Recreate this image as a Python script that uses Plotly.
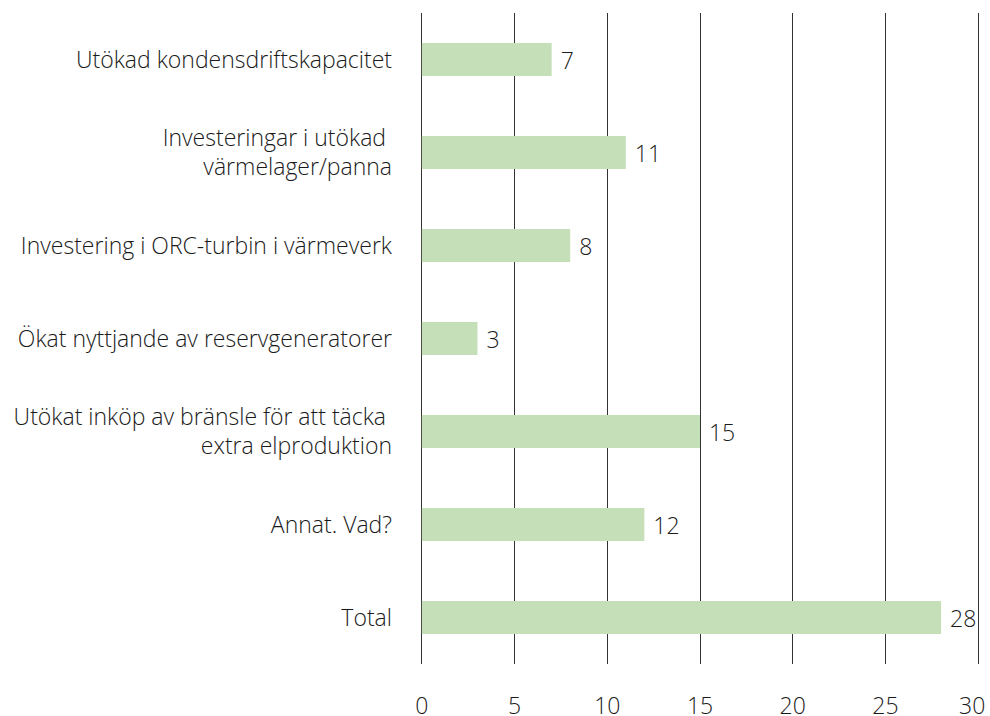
import plotly.graph_objects as go

categories = [
    "Utökad kondensdriftskapacitet",
    "Investeringar i utökad <br>värmelager/panna",
    "Investering i ORC-turbin i värmeverk",
    "Ökat nyttjande av reservgeneratorer",
    "Utökat inköp av bränsle för att täcka <br>extra elproduktion",
    "Annat. Vad?",
    "Total",
]
values = [7, 11, 8, 3, 15, 12, 28]
x_ticks = [0, 5, 10, 15, 20, 25, 30]
x_tick_labels = ["0", "5", "10", "15", "20", "25", "30"]

font_family = "Open Sans, Liberation Sans, Arial, sans-serif"
text_color = "#1a1a1a"
fs = 23

# keep the last tick label inside the page, as in the reference
tick_text = x_tick_labels[:-1] + [x_tick_labels[-1] + "\u00a0\u00a0"]

fig = go.Figure(
    go.Bar(
        x=values,
        y=categories,
        orientation="h",
        marker=dict(color="#c5e0b9", line=dict(width=0)),
        text=[" " + str(v) for v in values],
        textposition="outside",
        textfont=dict(size=fs, color=text_color, family=font_family, weight=300),
        cliponaxis=False,
    )
)

fig.update_layout(
    width=990,
    height=716,
    margin=dict(l=420, r=10, t=13, b=52, autoexpand=False),
    plot_bgcolor="white",
    paper_bgcolor="white",
    bargap=0.645,
    showlegend=False,
    font=dict(family=font_family, size=fs, color=text_color, weight=300),
)
fig.update_xaxes(
    range=[-0.1, 30.1],
    tickvals=x_ticks,
    ticktext=tick_text,
    showgrid=True,
    gridcolor="#333333",
    gridwidth=1,
    zeroline=False,
    showline=False,
    ticks="",
    automargin=False,
    ticklabelstandoff=26,
    ticklabeloverflow="allow",
    tickfont=dict(size=fs, color=text_color, weight=300),
)
fig.update_yaxes(
    autorange="reversed",
    showgrid=False,
    showline=False,
    ticks="",
    automargin=False,
    ticklabelstandoff=27,
    tickfont=dict(size=fs, color=text_color, weight=300),
)

fig.write_html(
    "out.html",
    config={"displayModeBar": False},
    post_script="document.body.style.margin='0';",
)
